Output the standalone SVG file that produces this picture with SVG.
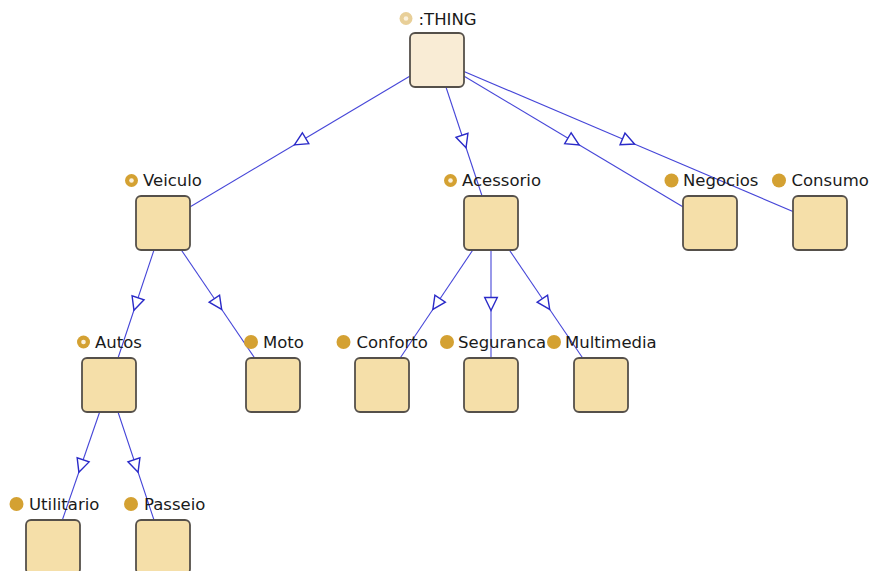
<svg xmlns="http://www.w3.org/2000/svg" width="872" height="571" viewBox="0 0 872 571">
<style>
  .box { fill: #f5dfa9; stroke: #55504a; stroke-width: 1.8; }
  .root { fill: #f9ecd5; }
  .lbl { font-family: "DejaVu Sans", "Liberation Sans", sans-serif; font-size: 16.5px; fill: #1a1a1a; }
  .edge { fill: none; stroke: #4646d8; stroke-width: 1.1; marker-mid: url(#tri); }
  .leaf { fill: #d4a132; }
  .def { fill: #d4a132; }
  .defroot { fill: #e8cf98; }
  .hole { fill: #fbf1dc; }
</style>
<defs>
  <marker id="tri" markerUnits="userSpaceOnUse" markerWidth="20" markerHeight="20" refX="0" refY="0" viewBox="-10 -10 20 20" orient="auto" overflow="visible">
    <path d="M6.5,0 L-6.5,-6.3 L-6.5,6.3 Z" fill="#ffffff" stroke="#2a2ac8" stroke-width="1.4" stroke-linejoin="miter"/>
  </marker>
</defs>
<rect width="872" height="571" fill="#ffffff"/>
<g id="connectors">
  <polyline class="edge" points="437,60 300,141.5 163,223"/>
  <polyline class="edge" points="437,60 464,141.5 491,223"/>
  <polyline class="edge" points="437,60 573.5,141.5 710,223"/>
  <polyline class="edge" points="437,60 628.5,141.5 820,223"/>
  <polyline class="edge" points="163,223 136,304 109,385"/>
  <polyline class="edge" points="163,223 218,304 273,385"/>
  <polyline class="edge" points="491,223 436.5,304 382,385"/>
  <polyline class="edge" points="491,223 491,304 491,385"/>
  <polyline class="edge" points="491,223 546,304 601,385"/>
  <polyline class="edge" points="109,385 81,466 53,547"/>
  <polyline class="edge" points="109,385 136,466 163,547"/>
</g>
<g id="thing">
  <rect class="box root" x="410" y="33" width="54" height="54" rx="5"/>
  <circle class="defroot" cx="406" cy="18.5" r="6.5"/><circle class="hole" cx="406" cy="18.5" r="2.3"/>
  <text class="lbl" x="418.5" y="24.5">:THING</text>
</g>
<g id="veiculo">
  <rect class="box" x="136" y="196" width="54" height="54" rx="5"/>
  <circle class="def" cx="131.5" cy="180.5" r="6.5"/><circle class="hole" cx="131.5" cy="180.5" r="2.3"/>
  <text class="lbl" x="143" y="186">Veiculo</text>
</g>
<g id="acessorio">
  <rect class="box" x="464" y="196" width="54" height="54" rx="5"/>
  <circle class="def" cx="450.5" cy="180.5" r="6.5"/><circle class="hole" cx="450.5" cy="180.5" r="2.3"/>
  <text class="lbl" x="462" y="186">Acessorio</text>
</g>
<g id="negocios">
  <rect class="box" x="683" y="196" width="54" height="54" rx="5"/>
  <circle class="leaf" cx="671.5" cy="180.5" r="7"/>
  <text class="lbl" x="683" y="186">Negocios</text>
</g>
<g id="consumo">
  <rect class="box" x="793" y="196" width="54" height="54" rx="5"/>
  <circle class="leaf" cx="779" cy="180.5" r="7"/>
  <text class="lbl" x="791.5" y="186">Consumo</text>
</g>
<g id="autos">
  <rect class="box" x="82" y="358" width="54" height="54" rx="5"/>
  <circle class="def" cx="83.5" cy="342" r="6.5"/><circle class="hole" cx="83.5" cy="342" r="2.3"/>
  <text class="lbl" x="95" y="347.5">Autos</text>
</g>
<g id="moto">
  <rect class="box" x="246" y="358" width="54" height="54" rx="5"/>
  <circle class="leaf" cx="251" cy="342" r="7"/>
  <text class="lbl" x="263" y="347.5">Moto</text>
</g>
<g id="conforto">
  <rect class="box" x="355" y="358" width="54" height="54" rx="5"/>
  <circle class="leaf" cx="343.5" cy="342" r="7"/>
  <text class="lbl" x="356.5" y="347.5">Conforto</text>
</g>
<g id="seguranca">
  <rect class="box" x="464" y="358" width="54" height="54" rx="5"/>
  <circle class="leaf" cx="447" cy="342" r="7"/>
  <text class="lbl" x="458" y="347.5">Seguranca</text>
</g>
<g id="multimedia">
  <rect class="box" x="574" y="358" width="54" height="54" rx="5"/>
  <circle class="leaf" cx="554" cy="342" r="7"/>
  <text class="lbl" x="565" y="347.5">Multimedia</text>
</g>
<g id="utilitario">
  <rect class="box" x="26" y="520" width="54" height="54" rx="5"/>
  <circle class="leaf" cx="16.5" cy="504" r="7"/>
  <text class="lbl" x="29" y="509.5">Utilitario</text>
</g>
<g id="passeio">
  <rect class="box" x="136" y="520" width="54" height="54" rx="5"/>
  <circle class="leaf" cx="131" cy="504" r="7"/>
  <text class="lbl" x="144" y="509.5">Passeio</text>
</g>
</svg>
